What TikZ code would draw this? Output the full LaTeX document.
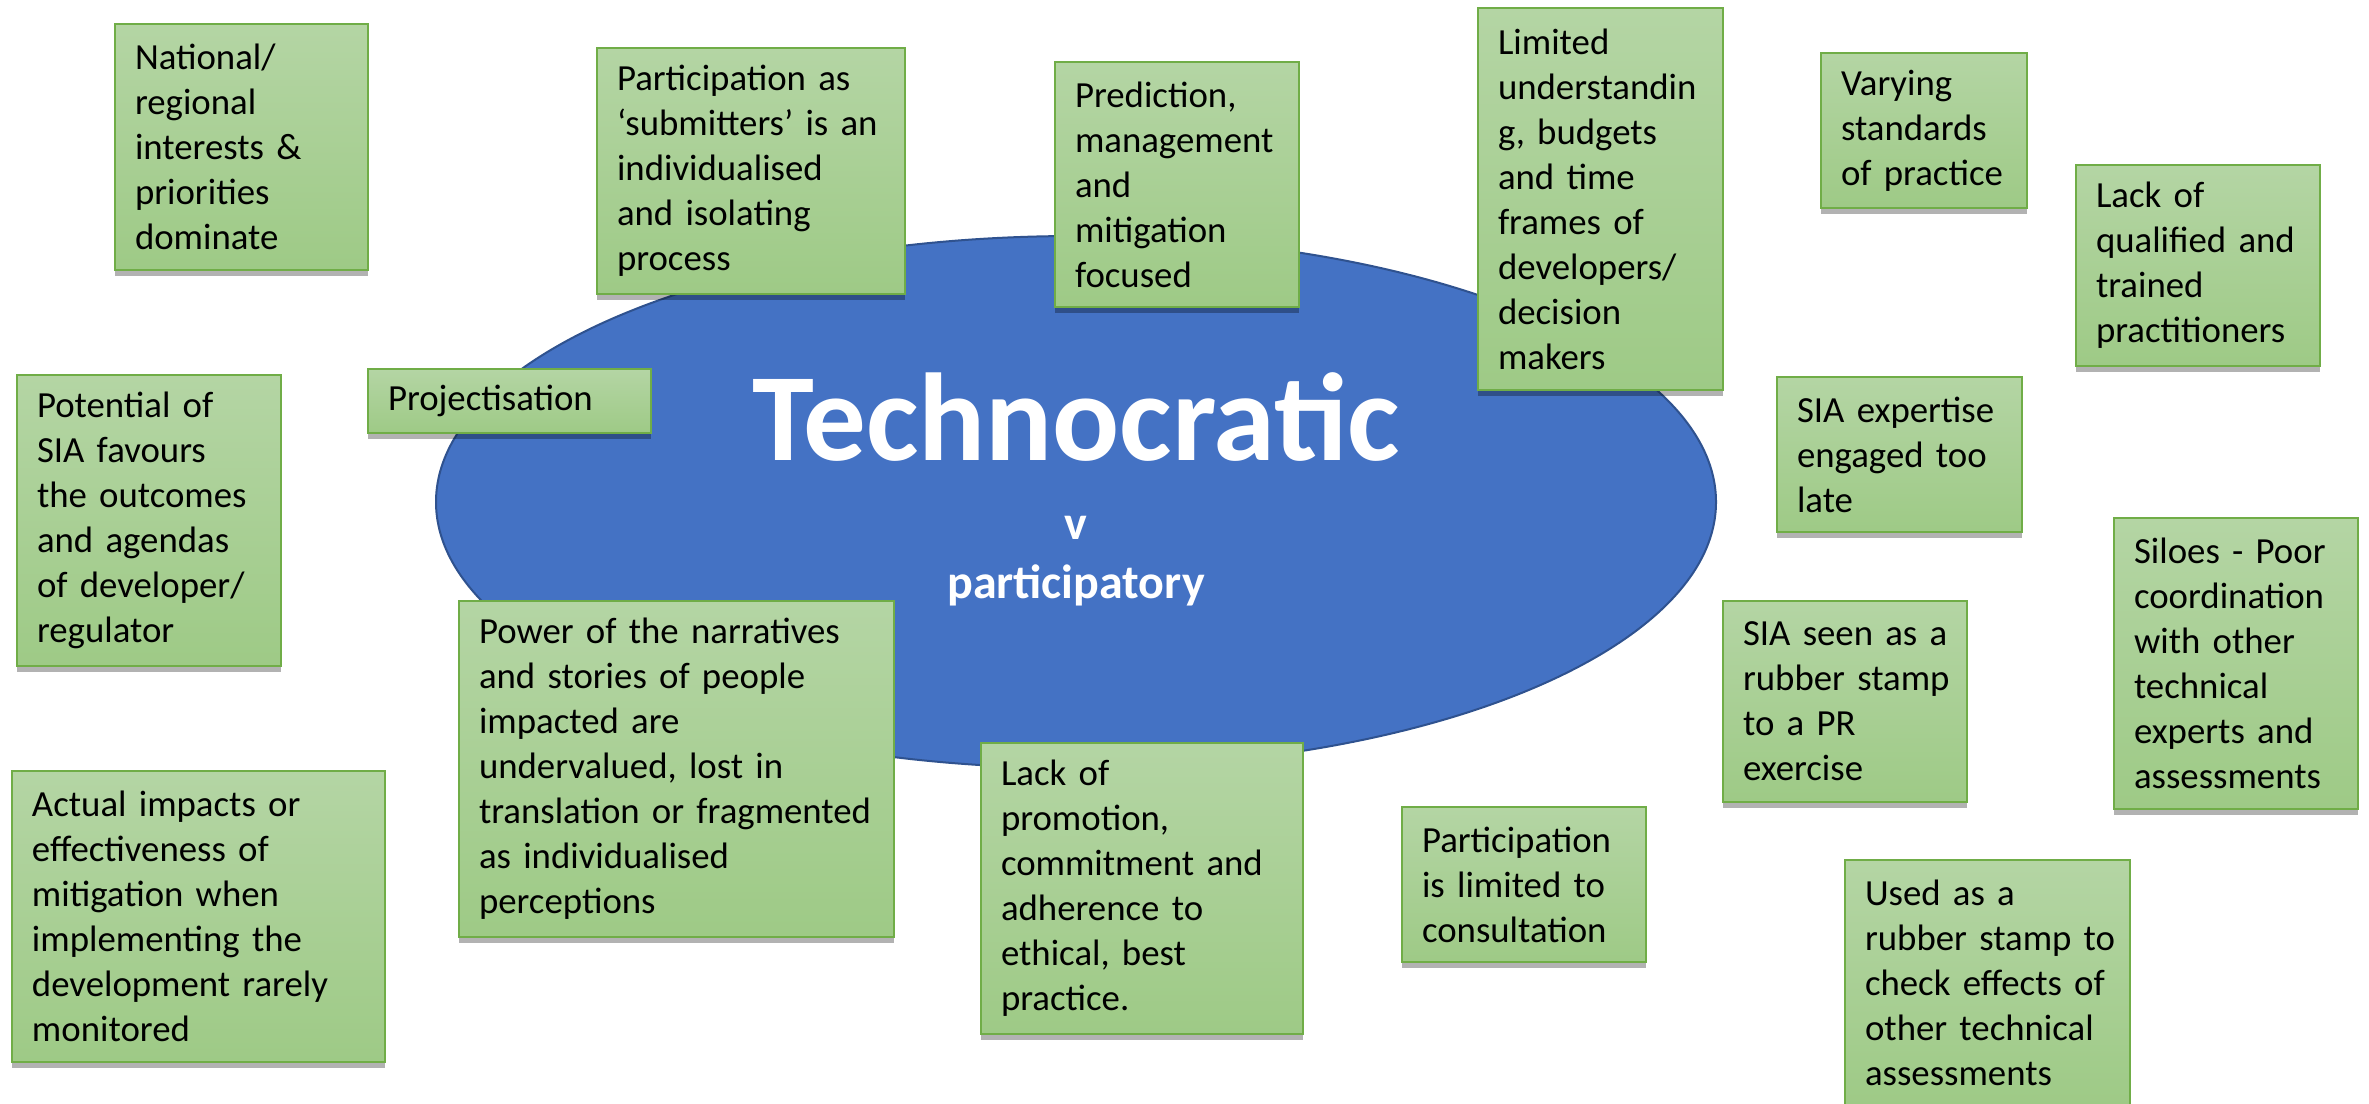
\documentclass[tikz,border=0pt]{standalone}
\usepackage{fontspec}
\setmainfont{Carlito}
\usetikzlibrary{shapes.geometric,shadows}
\definecolor{gtop}{HTML}{B4D5A4}
\definecolor{gbot}{HTML}{9ECA86}
\definecolor{gborder}{HTML}{70AD47}
\definecolor{eblue}{HTML}{4472C4}
\definecolor{eborder}{HTML}{2F528F}
\begin{document}
\begin{tikzpicture}[x=0.5pt,y=-0.5pt,
  greenbox/.style={draw=gborder, line width=1pt, top color=gtop, bottom color=gbot,
    drop shadow={shadow xshift=0pt, shadow yshift=-3pt, opacity=0.3, fill=black},
    anchor=north west, inner xsep=10pt, inner ysep=0pt, align=left,
    font=\fontsize{18.4}{22.5}\selectfont, text=black},
  centretext/.style={text=white, anchor=base, inner sep=0pt},
]
\useasboundingbox (0,0) rectangle (2369,1103);
\fill[white] (0,0) rectangle (2369,1103);

\node[ellipse, draw=eborder, line width=1pt, fill=eblue,
  minimum width=640pt, minimum height=266pt, inner sep=0pt] (ell) at (1076,502) {};
\node[centretext, font=\bfseries\fontsize{62.5}{62.5}\selectfont] (tech) at (1076,460) {Technocratic};
\node[centretext, font=\bfseries\fontsize{24}{24}\selectfont] (vs) at (1076,539) {v};
\node[centretext, font=\bfseries\fontsize{24}{24}\selectfont] (part) at (1076,598) {participatory};

\node[greenbox, minimum width=126.5pt, minimum height=123pt, text width=106.5pt] (nat) at (114,23)
  {National/\\regional\\interests~\&\\priorities\\dominate};
\node[greenbox, minimum width=154pt, minimum height=123pt, text width=134pt] (subm) at (596,47)
  {Participation~as\\‘submitters’~is~an\\individualised\\and~isolating\\process};
\node[greenbox, minimum width=122pt, minimum height=122.5pt, text width=102pt] (pred) at (1054,61)
  {Prediction,\\management\\and\\mitigation\\focused};
\node[greenbox, minimum width=122.5pt, minimum height=191pt, text width=102.5pt] (lim) at (1477,7)
  {Limited\\understandin\\g,~budgets\\and~time\\frames~of\\developers/\\decision\\makers};
\node[greenbox, minimum width=103pt, minimum height=77.5pt, text width=83pt] (vary) at (1820,52)
  {Varying\\standards\\of~practice};
\node[greenbox, minimum width=122pt, minimum height=100.5pt, text width=102pt] (lackq) at (2075,164)
  {Lack~of\\qualified~and\\trained\\practitioners};
\node[greenbox, minimum width=132pt, minimum height=145.5pt, text width=112pt] (pot) at (16,374)
  {Potential~of\\SIA~favours\\the~outcomes\\and~agendas\\of~developer/\\regulator};
\node[greenbox, minimum width=141.5pt, minimum height=32pt, text width=121.5pt] (proj) at (367,368)
  {Projectisation};
\node[greenbox, minimum width=122.5pt, minimum height=77.5pt, text width=102.5pt] (siaexp) at (1776,376)
  {SIA~expertise\\engaged~too\\late};
\node[greenbox, minimum width=122pt, minimum height=145.5pt, text width=102pt] (siloes) at (2113,517)
  {Siloes~-~Poor\\coordination\\with~other\\technical\\experts~and\\assessments};
\node[greenbox, minimum width=122pt, minimum height=100.5pt, text width=102pt] (siaseen) at (1722,600)
  {SIA~seen~as~a\\rubber~stamp\\to~a~PR\\exercise};
\node[greenbox, minimum width=217.5pt, minimum height=168pt, text width=197.5pt] (power) at (458,600)
  {Power~of~the~narratives\\and~stories~of~people\\impacted~are\\undervalued,~lost~in\\translation~or~fragmented\\as~individualised\\perceptions};
\node[greenbox, minimum width=161pt, minimum height=145.5pt, text width=141pt] (lackp) at (980,742)
  {Lack~of\\promotion,\\commitment~and\\adherence~to\\ethical,~best\\practice.};
\node[greenbox, minimum width=122pt, minimum height=77.5pt, text width=102pt] (partlim) at (1401,806)
  {Participation\\is~limited~to\\consultation};
\node[greenbox, minimum width=186.5pt, minimum height=145.5pt, text width=166.5pt] (actual) at (11,770)
  {Actual~impacts~or\\effectiveness~of\\mitigation~when\\implementing~the\\development~rarely\\monitored};
\node[greenbox, minimum width=142.5pt, minimum height=123pt, text width=122.5pt] (used) at (1844,859)
  {Used~as~a\\rubber~stamp~to\\check~effects~of\\other~technical\\assessments};
\end{tikzpicture}
\end{document}
